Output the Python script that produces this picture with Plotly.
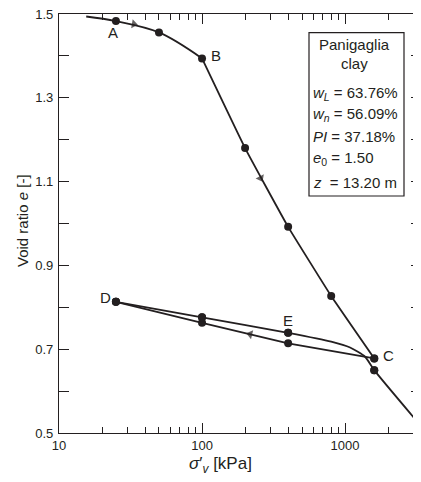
import math
import plotly.graph_objects as go

# ---------------- data ----------------
start_p = [15.5]
start_e = [1.494]

load_p = [25, 50, 100, 200, 400, 800, 1600]
load_e = [1.483, 1.456, 1.394, 1.180, 0.992, 0.827, 0.678]

unload_p = [1600, 400, 100, 25]
unload_e = [0.678, 0.714, 0.763, 0.813]

reload_p = [25, 100, 400, 1600, 3200]
reload_e = [0.813, 0.776, 0.739, 0.650, 0.527]

# unmarked points tracing the bend of the reloading curve between E and 1600 kPa
bend_p = [800, 1084, 1380]
bend_e = [0.718, 0.704, 0.682]

# arrowheads: (previous point on path, arrow point)
arrow_from_p = [25, 200, 400]
arrow_from_e = [1.483, 1.180, 0.714]
arrow_at_p = [33.4, 257, 217]
arrow_at_e = [1.476, 1.108, 0.7357]

point_labels = ["A", "B", "C", "D", "E"]
label_p = [23.7, 125, 2000, 21, 402]
label_e = [1.456, 1.402, 0.685, 0.823, 0.7685]

box_lines = [
    "Panigaglia",
    "clay",
    "<i>w</i><sub><i>L</i></sub> = 63.76%",
    "<i>w</i><sub><i>n</i></sub> = 56.09%",
    "<i>PI</i> = 37.18%",
    "<i>e</i><sub>0</sub> = 1.50",
    "<i>z</i>  = 13.20 m",
]

y_ticks = [0.5, 0.6, 0.7, 0.8, 0.9, 1.0, 1.1, 1.2, 1.3, 1.4, 1.5]
y_ticktext = ["0.5", "", "0.7", "", "0.9", "", "1.1", "", "1.3", "", "1.5"]
x_ticks = [10, 100, 1000]
x_ticktext = ["10", "100", "1000"]
x_minor = [20, 30, 40, 50, 60, 70, 80, 90,
           200, 300, 400, 500, 600, 700, 800, 900,
           2000, 3000]

# ---------------- style ----------------
INK = "#231f20"
FONT = "Liberation Sans, Arial, Helvetica, sans-serif"
OFF = 8                      # page body margin
W, H = 421 - OFF, 482 - OFF
PL, PT, PB = 59, 14, 433     # plot area edges in page pixels
ML, MR, MT, MB = PL - OFF, 0, PT - OFF, 482 - PB
X_RANGE = [1, 3.531]
Y_RANGE = [0.5, 1.5]

pw = W - ML - MR
ph = H - MT - MB


def px_x(v):
    return (v - PL) / pw


def px_y(v):
    return (PB - v) / ph


fig = go.Figure()
line_style = dict(color=INK, width=1.8)

# loading (compression) curve: curved part to B, then nearly straight
n_curve = 3
fig.add_trace(go.Scatter(
    x=start_p + load_p[:n_curve], y=start_e + load_e[:n_curve], mode="lines",
    line=dict(shape="spline", smoothing=1.0, **line_style),
    hoverinfo="skip", showlegend=False))
fig.add_trace(go.Scatter(
    x=load_p[n_curve - 1:], y=load_e[n_curve - 1:], mode="lines",
    line=dict(shape="spline", smoothing=0.3, **line_style),
    hoverinfo="skip", showlegend=False))
# unloading
fig.add_trace(go.Scatter(
    x=unload_p, y=unload_e, mode="lines", line=line_style,
    hoverinfo="skip", showlegend=False))
# reloading
rp = reload_p[:3] + bend_p + reload_p[3:]
re_ = reload_e[:3] + bend_e + reload_e[3:]
fig.add_trace(go.Scatter(
    x=rp, y=re_, mode="lines",
    line=dict(shape="spline", smoothing=0.6, **line_style),
    hoverinfo="skip", showlegend=False))

# measured points
mk = dict(color=INK, size=8, symbol="circle")
for xs, ys in [(load_p, load_e), (unload_p, unload_e), (reload_p, reload_e)]:
    fig.add_trace(go.Scatter(x=xs, y=ys, mode="markers", marker=mk,
                             hoverinfo="skip", showlegend=False))

# arrowheads oriented along the path
for p0, e0, p1, e1 in zip(arrow_from_p, arrow_from_e, arrow_at_p, arrow_at_e):
    fig.add_trace(go.Scatter(
        x=[p0, p1], y=[e0, e1], mode="markers",
        marker=dict(symbol="triangle-up", size=[0, 8], color=INK,
                    angleref="previous", line=dict(width=0)),
        hoverinfo="skip", showlegend=False))

# reloading points also plotted against the right-hand axis so that its ticks render
fig.add_trace(go.Scatter(x=reload_p, y=reload_e, mode="markers", marker=mk,
                         yaxis="y2", hoverinfo="skip", showlegend=False))

# point labels
for t, p, e in zip(point_labels, label_p, label_e):
    fig.add_annotation(x=math.log10(p), y=e, xref="x", yref="y", text=t,
                       showarrow=False, font=dict(family=FONT, size=15, color=INK),
                       xanchor="center", yanchor="middle")

# info box
fig.add_shape(type="rect", xref="paper", yref="paper",
              x0=px_x(309), x1=px_x(404), y0=px_y(196), y1=px_y(32.7),
              line=dict(color=INK, width=1.2), fillcolor="white", layer="above")
line_y = [45, 63.5, 93, 114.5, 136.7, 158.5, 182]
for i, (txt, yy) in enumerate(zip(box_lines, line_y)):
    centered = i < 2
    fig.add_annotation(
        x=px_x(354) if centered else px_x(311), y=px_y(yy),
        xref="paper", yref="paper", text=txt, showarrow=False,
        xanchor="center" if centered else "left", yanchor="middle",
        font=dict(family=FONT, size=15, color=INK))

# axis titles
fig.add_annotation(x=px_x(22), y=px_y(221), xref="paper", yref="paper",
                   text="Void ratio <i>e</i> [-]", textangle=-90, showarrow=False,
                   xanchor="center", yanchor="middle",
                   font=dict(family=FONT, size=15, color=INK))
fig.add_annotation(x=px_x(220), y=px_y(465), xref="paper", yref="paper",
                   text="<i>σ</i>′<sub><i>v</i></sub> [kPa]", showarrow=False,
                   xanchor="center", yanchor="middle",
                   font=dict(family=FONT, size=17, color=INK))

fig.update_layout(
    width=W, height=H, autosize=False,
    margin=dict(l=ML, r=MR, t=MT, b=MB, pad=0),
    paper_bgcolor="white", plot_bgcolor="white",
    font=dict(family=FONT, size=13, color=INK),
    showlegend=False,
    xaxis=dict(
        type="log", range=X_RANGE, anchor="y",
        showgrid=False, zeroline=False,
        showline=True, linecolor=INK, linewidth=1.3, mirror="ticks",
        ticks="inside", ticklen=10, tickwidth=1.2, tickcolor=INK,
        tickmode="array", tickvals=x_ticks, ticktext=x_ticktext,
        tickfont=dict(family=FONT, size=13, color=INK),
        ticklabeloverflow="allow",
        minor=dict(ticks="inside", ticklen=6, tickwidth=1, tickcolor=INK,
                   tickmode="array", tickvals=x_minor, showgrid=False),
    ),
    yaxis=dict(
        range=Y_RANGE, anchor="x",
        showgrid=False, zeroline=False,
        showline=True, linecolor=INK, linewidth=1.3, mirror=False,
        ticks="inside", ticklen=10, tickwidth=1, tickcolor=INK,
        tickmode="array", tickvals=y_ticks, ticktext=y_ticktext,
        tickfont=dict(family=FONT, size=13, color=INK),
        ticklabelstandoff=2, ticklabeloverflow="allow",
    ),
    yaxis2=dict(
        range=Y_RANGE, overlaying="y", side="right", anchor="x",
        showgrid=False, zeroline=False, showline=False,
        ticks="inside", ticklen=10, tickwidth=1, tickcolor=INK,
        tickmode="array", tickvals=y_ticks, showticklabels=False,
    ),
)

fig.write_html("out.html")
